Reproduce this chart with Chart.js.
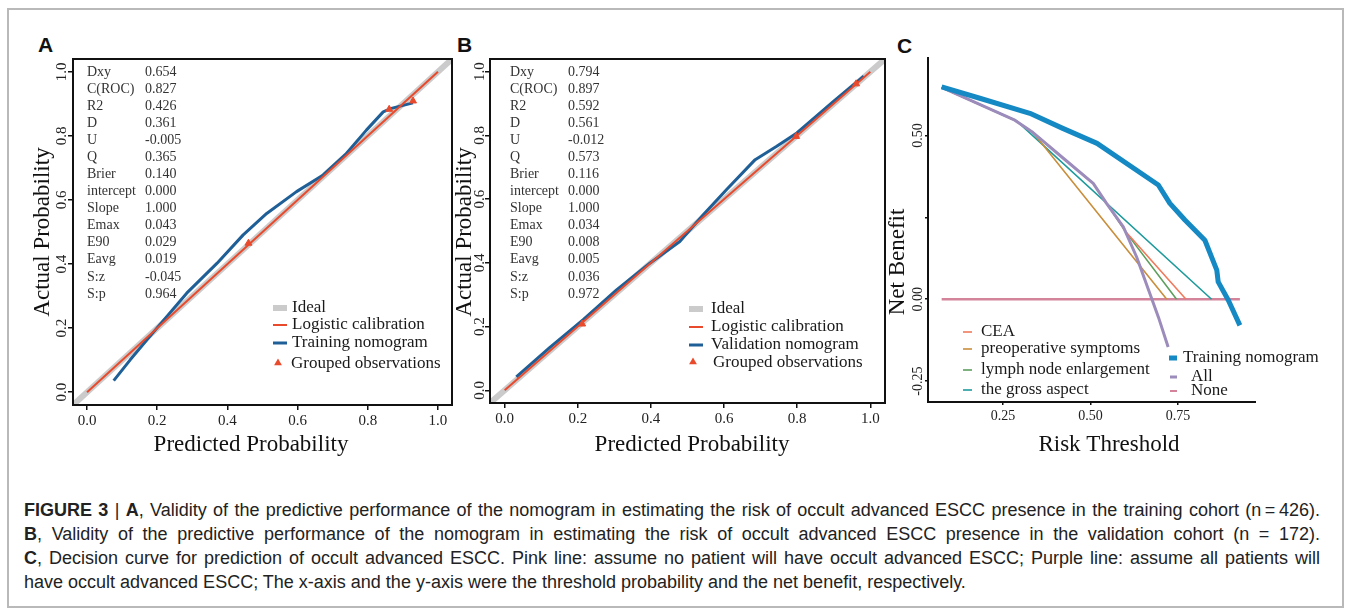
<!DOCTYPE html>
<html>
<head>
<meta charset="utf-8">
<script src="https://cdn.jsdelivr.net/npm/chart.js@4.4.1/dist/chart.umd.min.js"></script>
<style>
  body { margin: 0; background: #fff; width: 1348px; height: 610px; position: relative; overflow: hidden; }
  #frame { position: absolute; left: 7px; top: 8px; width: 1337px; height: 600px; box-sizing: border-box; border: 2px solid #b9b9b9; }
  canvas { position: absolute; top: 0; }
  .tag { position: absolute; font: bold 21px "Liberation Sans", Arial, sans-serif; color: #111; line-height: 1; }
  .cap { position: absolute; left: 24px; width: 1296px; font: 18px/24px "Liberation Sans", Arial, sans-serif; color: #222;
         text-align: justify; text-align-last: justify; }
  .cap.last { text-align-last: left; }
</style>
</head>
<body>
<div id="frame"></div>
<div class="tag" style="left:38px;top:34px">A</div>
<div class="tag" style="left:457px;top:34px">B</div>
<div class="tag" style="left:897px;top:35px">C</div>
<canvas id="chartA" width="460" height="470" style="left:0"></canvas>
<canvas id="chartB" width="440" height="470" style="left:452px"></canvas>
<canvas id="chartC" width="468" height="470" style="left:880px"></canvas>
<div class="cap" style="top:498px"><b>FIGURE 3</b> | <b>A</b>, Validity of the predictive performance of the nomogram in estimating the risk of occult advanced ESCC presence in the training cohort (n&#8201;=&#8201;426).</div>
<div class="cap" style="top:522px"><b>B</b>, Validity of the predictive performance of the nomogram in estimating the risk of occult advanced ESCC presence in the validation cohort (n = 172).</div>
<div class="cap" style="top:546px"><b>C</b>, Decision curve for prediction of occult advanced ESCC. Pink line: assume no patient will have occult advanced ESCC; Purple line: assume all patients will</div>
<div class="cap last" style="top:570px">have occult advanced ESCC; The x-axis and the y-axis were the threshold probability and the net benefit, respectively.</div>

<script>
const serif = '"Liberation Serif", "Times New Roman", serif';

// calibration axes (A and B)
const probTicks = [0, 0.2, 0.4, 0.6, 0.8, 1.0];
const probLabels = ["0.0", "0.2", "0.4", "0.6", "0.8", "1.0"];
const idealLine = [-0.1, 1.1];
const logisticLine = [0, 1];
const statNames = ["Dxy", "C(ROC)", "R2", "D", "U", "Q", "Brier", "intercept", "Slope", "Emax", "E90", "Eavg", "S:z", "S:p"];

// A - training cohort
const trainPred = [0.076, 0.123, 0.199, 0.284, 0.370, 0.445, 0.512, 0.597, 0.673, 0.739, 0.796, 0.844, 0.867, 0.929];
const trainObs  = [0.036, 0.101, 0.200, 0.309, 0.402, 0.491, 0.558, 0.626, 0.678, 0.745, 0.818, 0.875, 0.886, 0.903];
const trainGroupPred = [0.460, 0.861, 0.929];
const trainGroupObs  = [0.465, 0.883, 0.909];
const trainStats = ["0.654", "0.827", "0.426", "0.361", "-0.005", "0.365", "0.140", "0.000", "1.000", "0.043", "0.029", "0.019", "-0.045", "0.964"];

// B - validation cohort
const validPred = [0.032, 0.123, 0.215, 0.306, 0.397, 0.479, 0.543, 0.607, 0.685, 0.744, 0.799, 0.900, 0.982];
const validObs  = [0.042, 0.134, 0.222, 0.315, 0.399, 0.467, 0.551, 0.630, 0.724, 0.766, 0.808, 0.908, 0.986];
const validGroupPred = [0.212, 0.797, 0.961];
const validGroupObs  = [0.208, 0.797, 0.962];
const validStats = ["0.794", "0.897", "0.592", "0.561", "-0.012", "0.573", "0.116", "0.000", "1.000", "0.034", "0.008", "0.005", "0.036", "0.972"];

// C - decision curve
const riskTicks = [0.25, 0.5, 0.75];
const riskLabels = ["0.25", "0.50", "0.75"];
const nbTicks = [-0.25, 0, 0.25, 0.5];
const nbLabels = ["-0.25", "0.00", "", "0.50"];
const nomoX = [0.075, 0.184, 0.327, 0.421, 0.519, 0.694, 0.727, 0.770, 0.827, 0.861, 0.865, 0.894, 0.927];
const nomoY = [0.649, 0.614, 0.568, 0.522, 0.476, 0.349, 0.293, 0.242, 0.180, 0.089, 0.053, -0.003, -0.080];
const allX = [0.075, 0.284, 0.336, 0.420, 0.508, 0.546, 0.594, 0.632, 0.670, 0.694, 0.722];
const allY = [0.647, 0.547, 0.509, 0.433, 0.354, 0.293, 0.221, 0.129, 0.017, -0.054, -0.146];
const ceaX = [0.075, 0.284, 0.336, 0.420, 0.508, 0.546, 0.603, 0.773];
const ceaY = [0.647, 0.547, 0.509, 0.433, 0.354, 0.293, 0.204, 0.0];
const symptX = [0.075, 0.284, 0.336, 0.718];
const symptY = [0.647, 0.547, 0.509, 0.0];
const lymphX = [0.075, 0.284, 0.336, 0.420, 0.508, 0.546, 0.599, 0.746];
const lymphY = [0.647, 0.547, 0.509, 0.433, 0.354, 0.293, 0.208, 0.0];
const grossX = [0.075, 0.289, 0.846];
const grossY = [0.647, 0.545, 0.0];
const noneX = [0.075, 0.927];
const noneY = [0, 0];

const pts = (xs, ys) => xs.map((x, i) => ({ x, y: ys[i] }));
const pick = (ticks, labels) => (v) => {
  const i = ticks.findIndex((t) => Math.abs(t - v) < 1e-6);
  return i < 0 ? "" : labels[i];
};

function tri(ctx, x, y, r) {
  ctx.beginPath();
  ctx.moveTo(x, y - r);
  ctx.lineTo(x + r * 0.87, y + r * 0.5);
  ctx.lineTo(x - r * 0.87, y + r * 0.5);
  ctx.closePath();
  ctx.fill();
}

// box / axes, rotated y labels, titles, stats and legend
function decor(cfg) {
  return {
    id: "decor",
    afterDraw(chart) {
      const { ctx, chartArea: a } = chart;
      const y = chart.scales.y;
      ctx.save();
      ctx.strokeStyle = "#111";
      ctx.lineWidth = 2;
      if (cfg.box) {
        ctx.strokeRect(a.left, a.top, a.right - a.left, a.bottom - a.top);
      } else {
        ctx.beginPath();
        ctx.moveTo(a.left, a.top);
        ctx.lineTo(a.left, a.bottom);
        ctx.lineTo(a.right, a.bottom);
        ctx.stroke();
      }

      ctx.fillStyle = "#222";
      ctx.textAlign = "center";
      ctx.textBaseline = "middle";
      ctx.font = cfg.tickSize + "px " + serif;
      cfg.yTicks.forEach((v, i) => {
        if (!cfg.yLabels[i]) return;
        ctx.save();
        ctx.translate(a.left - cfg.yTickGap, y.getPixelForValue(v));
        ctx.rotate(-Math.PI / 2);
        ctx.fillText(cfg.yLabels[i], 0, 0);
        ctx.restore();
      });

      ctx.font = "23px " + serif;
      ctx.fillStyle = "#111";
      ctx.fillText(cfg.xTitle[0], cfg.xTitle[1], cfg.xTitle[2]);
      ctx.save();
      ctx.translate(cfg.yTitle[1], cfg.yTitle[2]);
      ctx.rotate(-Math.PI / 2);
      ctx.fillText(cfg.yTitle[0], 0, 0);
      ctx.restore();

      ctx.textAlign = "left";
      if (cfg.stats) {
        ctx.font = "14px " + serif;
        ctx.fillStyle = "#333";
        statNames.forEach((n, i) => {
          const ty = cfg.stats.y + i * 17.07;
          ctx.fillText(n, cfg.stats.x1, ty);
          ctx.fillText(cfg.stats.values[i], cfg.stats.x2, ty);
        });
      }

      ctx.font = "17px " + serif;
      cfg.legend.forEach((it) => {
        ctx.fillStyle = it.color;
        ctx.strokeStyle = it.color;
        if (it.tri) {
          tri(ctx, (it.x1 + it.x2) / 2, it.y - 1, 4.5);
        } else {
          ctx.lineWidth = it.w;
          ctx.beginPath();
          ctx.moveTo(it.x1, it.y);
          ctx.lineTo(it.x2, it.y);
          ctx.stroke();
        }
        ctx.fillStyle = "#1a1a1a";
        ctx.fillText(it.text, it.tx, it.y);
      });
      ctx.restore();
    },
  };
}

const red = "#ea4a2c";
const navy = "#1f5f97";
const grey = "#cbcbcb";

function calib(id, c) {
  new Chart(document.getElementById(id), {
    type: "scatter",
    data: {
      datasets: [
        { label: "Grouped observations", data: pts(c.gx, c.gy), pointStyle: "triangle", pointRadius: 4,
          backgroundColor: red, borderColor: red, borderWidth: 1, order: 0 },
        { label: "Logistic calibration", data: pts(logisticLine, logisticLine), showLine: true,
          borderColor: red, borderWidth: 2, pointRadius: 0, order: 1 },
        { label: c.name, data: pts(c.px, c.py), showLine: true, borderColor: navy, borderWidth: 3,
          pointRadius: 0, borderJoinStyle: "round", order: 2 },
        { label: "Ideal", data: pts(idealLine, idealLine), showLine: true, borderColor: grey, borderWidth: 6,
          pointRadius: 0, order: 3 },
      ],
    },
    options: {
      responsive: false,
      animation: false,
      events: [],
      layout: { padding: c.pad },
      plugins: { legend: { display: false }, tooltip: { enabled: false } },
      scales: {
        x: {
          type: "linear", min: -0.04, max: 1.04,
          afterBuildTicks: (s) => { s.ticks = probTicks.map((v) => ({ value: v })); },
          afterFit: (s) => { s.height = c.xh; },
          ticks: { callback: pick(probTicks, probLabels), font: { family: serif, size: 15 }, color: "#222",
                   padding: 2, maxRotation: 0, autoSkip: false },
          grid: { drawOnChartArea: false, tickLength: 5, color: "#111", lineWidth: 1.5 },
          border: { display: false },
        },
        y: {
          type: "linear", min: -0.04, max: 1.04,
          afterBuildTicks: (s) => { s.ticks = probTicks.map((v) => ({ value: v })); },
          afterFit: (s) => { s.width = c.yw; },
          ticks: { display: false },
          grid: { drawOnChartArea: false, tickLength: 5, color: "#111", lineWidth: 1.5 },
          border: { display: false },
        },
      },
    },
    plugins: [decor(c.decor)],
  });
}

calib("chartA", {
  name: "Training nomogram", px: trainPred, py: trainObs, gx: trainGroupPred, gy: trainGroupObs,
  pad: { left: 0, top: 59, right: 8, bottom: 0 }, xh: 65, yw: 73,
  decor: {
    box: true, yTicks: probTicks, yLabels: probLabels, yTickGap: 11, tickSize: 15,
    xTitle: ["Predicted Probability", 251, 445], yTitle: ["Actual Probability", 43, 232],
    stats: { x1: 87, x2: 145, y: 72, values: trainStats },
    legend: [
      { text: "Ideal", color: grey, w: 6, x1: 273, x2: 287, y: 308, tx: 292 },
      { text: "Logistic calibration", color: red, w: 2, x1: 273, x2: 287, y: 325, tx: 292 },
      { text: "Training nomogram", color: navy, w: 3, x1: 273, x2: 287, y: 343, tx: 292 },
      { text: "Grouped observations", color: red, tri: true, x1: 273, x2: 283, y: 364, tx: 291 },
    ],
  },
});

calib("chartB", {
  name: "Validation nomogram", px: validPred, py: validObs, gx: validGroupPred, gy: validGroupObs,
  pad: { left: 0, top: 59, right: 7, bottom: 0 }, xh: 67, yw: 38,
  decor: {
    box: true, yTicks: probTicks, yLabels: probLabels, yTickGap: 10, tickSize: 15,
    xTitle: ["Predicted Probability", 240, 445], yTitle: ["Actual Probability", 13, 232],
    stats: { x1: 58, x2: 116, y: 72, values: validStats },
    legend: [
      { text: "Ideal", color: grey, w: 6, x1: 237, x2: 251, y: 309, tx: 259 },
      { text: "Logistic calibration", color: red, w: 2, x1: 237, x2: 251, y: 327, tx: 259 },
      { text: "Validation nomogram", color: navy, w: 3, x1: 237, x2: 251, y: 345, tx: 259 },
      { text: "Grouped observations", color: red, tri: true, x1: 237, x2: 245, y: 363, tx: 261 },
    ],
  },
});

const cBlue = "#1489c3", cPurple = "#9b8cbc", cPink = "#d4849a";
const cCea = "#f07a5c", cSympt = "#c98e3a", cLymph = "#5c9e5c", cGross = "#1d9a9c";
const line = (label, xs, ys, color, w, order) => ({
  label, data: pts(xs, ys), showLine: true, borderColor: color, backgroundColor: color,
  borderWidth: w, pointRadius: 0, borderJoinStyle: "round", order,
});

new Chart(document.getElementById("chartC"), {
  type: "scatter",
  data: {
    datasets: [
      line("Training nomogram", nomoX, nomoY, cBlue, 5, 0),
      line("All", allX, allY, cPurple, 3, 1),
      line("CEA", ceaX, ceaY, cCea, 1.6, 2),
      line("lymph node enlargement", lymphX, lymphY, cLymph, 1.6, 3),
      line("preoperative symptoms", symptX, symptY, cSympt, 1.6, 4),
      line("the gross aspect", grossX, grossY, cGross, 1.6, 5),
      line("None", noneX, noneY, cPink, 2.5, 6),
    ],
  },
  options: {
    responsive: false,
    animation: false,
    events: [],
    layout: { padding: { left: 0, top: 57, right: 92, bottom: 0 } },
    plugins: { legend: { display: false }, tooltip: { enabled: false } },
    scales: {
      x: {
        type: "linear", min: 0.036, max: 0.973,
        afterBuildTicks: (s) => { s.ticks = riskTicks.map((v) => ({ value: v })); },
        afterFit: (s) => { s.height = 68; },
        ticks: { callback: pick(riskTicks, riskLabels), font: { family: serif, size: 14 }, color: "#222",
                 padding: 3, maxRotation: 0, autoSkip: false },
        grid: { drawOnChartArea: false, tickLength: 3, color: "#111", lineWidth: 1.5 },
        border: { display: false },
      },
      y: {
        type: "linear", min: -0.314, max: 0.74,
        afterBuildTicks: (s) => { s.ticks = nbTicks.map((v) => ({ value: v })); },
        afterFit: (s) => { s.width = 48; },
        ticks: { display: false },
        grid: { drawOnChartArea: false, tickLength: 3, color: "#111", lineWidth: 1.5 },
        border: { display: false },
      },
    },
  },
  plugins: [decor({
    box: false, yTicks: nbTicks, yLabels: nbLabels, yTickGap: 10, tickSize: 14,
    xTitle: ["Risk Threshold", 229, 445], yTitle: ["Net Benefit", 18, 262],
    legend: [
      { text: "CEA", color: cCea, w: 1.6, x1: 83, x2: 92, y: 332, tx: 101 },
      { text: "preoperative symptoms", color: cSympt, w: 1.6, x1: 83, x2: 92, y: 349, tx: 101 },
      { text: "lymph node enlargement", color: cLymph, w: 1.6, x1: 83, x2: 92, y: 370, tx: 101 },
      { text: "the gross aspect", color: cGross, w: 1.6, x1: 83, x2: 92, y: 390, tx: 101 },
      { text: "Training nomogram", color: cBlue, w: 5, x1: 289, x2: 297, y: 358, tx: 303 },
      { text: "All", color: cPurple, w: 3, x1: 290, x2: 297, y: 377, tx: 311 },
      { text: "None", color: cPink, w: 2, x1: 290, x2: 297, y: 391, tx: 311 },
    ],
  })],
});
</script>
</body>
</html>
